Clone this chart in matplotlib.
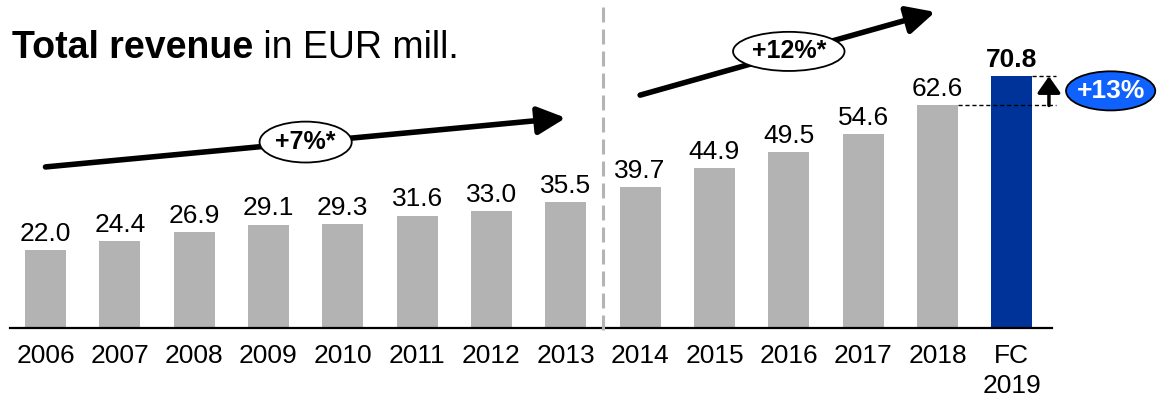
import matplotlib
matplotlib.use('Agg')
import matplotlib.pyplot as plt
from matplotlib.patches import Ellipse, FancyArrowPatch

plt.rcParams['font.family'] = ['Liberation Sans', 'DejaVu Sans']

# ── data ────────────────────────────────────────────────────────────────────
years = ['2006', '2007', '2008', '2009', '2010', '2011', '2012', '2013',
         '2014', '2015', '2016', '2017', '2018', 'FC\n2019']
revenue = [22.0, 24.4, 26.9, 29.1, 29.3, 31.6, 33.0, 35.5,
           39.7, 44.9, 49.5, 54.6, 62.6, 70.8]
cagr_labels = ['+7%*', '+12%*']
fc_growth_label = '+13%'

GREY = '#b3b3b3'
NAVY = '#003399'
BRIGHT_BLUE = '#0f62fe'

fig = plt.figure(figsize=(11.71, 4.03), dpi=100)
ax = fig.add_axes([0, 0, 1, 1])
ax.set_xlim(-0.612, 15.142)
ax.set_ylim(-21.1, 92.26)
ax.axis('off')

x = list(range(len(years)))
colors = [GREY] * (len(years) - 1) + [NAVY]
bars = ax.bar(x, revenue, width=0.55, color=colors, zorder=2)

# value labels
for i, (xi, v) in enumerate(zip(x, revenue)):
    last = i == len(years) - 1
    ax.annotate(f'{v:.1f}', (xi, v), xytext=(0, 3), textcoords='offset points',
                ha='center', va='bottom', fontsize=19,
                fontweight='bold' if last else 'normal', color='black')

# category labels
for xi, lab in zip(x, years):
    ax.text(xi, -4.6, lab, ha='center', va='top', fontsize=19,
            linespacing=1.3)

# baseline
ax.plot([-0.478, 13.54], [0, 0], color='black', lw=1.6, zorder=3)

# divider between history phases
ax.plot([7.5, 7.5], [-0.5, 92.26], color='#b4b4b4', lw=2.2,
        dashes=(4.9, 2.3), zorder=4)

# growth arrows
def growth_arrow(x0, y0, x1, y1, label, ex, ey, ew, eh):
    arr = FancyArrowPatch((x0, y0), (x1, y1),
                          arrowstyle='-|>,head_length=0.85,head_width=0.42',
                          mutation_scale=20, lw=4, color='black',
                          shrinkA=0, shrinkB=0, zorder=5)
    ax.add_patch(arr)
    ax.add_patch(Ellipse((ex, ey), ew, eh, facecolor='white',
                         edgecolor='black', lw=1.3, zorder=6))
    ax.text(ex, ey, label, ha='center', va='center', fontsize=18,
            fontweight='bold', zorder=7)

growth_arrow(0.0, 45.3, 7.0, 59.1, cagr_labels[0], 3.5, 52.3, 1.24, 11.5)
growth_arrow(8.0, 65.5, 11.97, 88.9, cagr_labels[1], 10.0, 77.8, 1.5, 11.0)

# FC increase marker
n = len(years) - 1
ax.plot([n + 0.275, n + 0.6], [revenue[-1]] * 2, color='black', lw=1,
        dashes=(3, 2), zorder=3)
ax.plot([n - 1 + 0.275, n + 0.6], [revenue[-2]] * 2, color='black', lw=1,
        dashes=(3, 2), zorder=3)
ax.add_patch(FancyArrowPatch((n + 0.5, revenue[-2]), (n + 0.5, revenue[-1]),
                             arrowstyle='-|>,head_length=0.5,head_width=0.35',
                             mutation_scale=20, lw=2.5, color='black',
                             shrinkA=0, shrinkB=0, zorder=5))
ax.add_patch(Ellipse((14.33, 66.7), 1.2, 11.0, facecolor=BRIGHT_BLUE,
                     edgecolor='black', lw=1.3, zorder=6))
ax.text(14.33, 66.7, fc_growth_label, ha='center', va='center', fontsize=19,
        fontweight='bold', color='white', zorder=7)

# title: bold part + regular part
t = fig.text(0.010, 0.856, 'Total revenue', fontsize=27, fontweight='bold',
             ha='left', va='baseline')
ax.annotate(' in EUR mill.', xy=(1, 0), xycoords=t, fontsize=27,
            ha='left', va='bottom')

fig.savefig('out.png', dpi=100)
